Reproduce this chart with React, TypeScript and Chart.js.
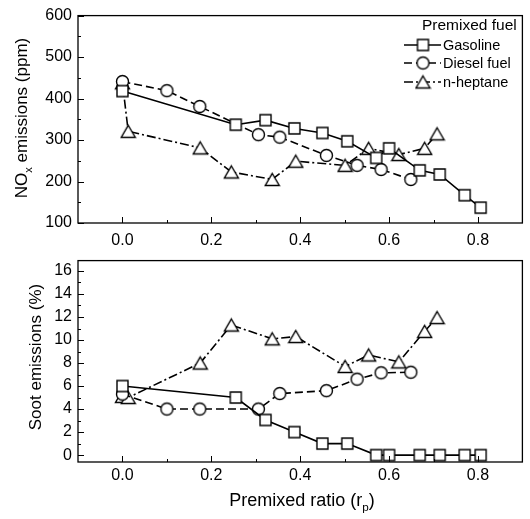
import React, { useEffect, useRef } from "react";
import { Chart, registerables } from "chart.js";

Chart.register(...registerables);

const FONT = "'Liberation Sans', Arial, Helvetica, sans-serif";

// ---- Data (premixed ratio r_p on x) ----
const seriesNames = ["Gasoline", "Diesel fuel", "n-heptane"];
const legendTitle = "Premixed fuel";

const gasolineRp = [0.0, 0.255, 0.322, 0.387, 0.45, 0.506, 0.571, 0.6, 0.669, 0.714, 0.77, 0.806];
const gasolineNOx = [418, 337, 348, 328, 317, 297, 257, 280, 227, 217, 167, 137];
const gasolineSoot = [6.0, 5.0, 3.05, 2.0, 1.0, 1.0, 0, 0, 0, 0, 0, 0];

const dieselRp = [0.0, 0.1, 0.174, 0.306, 0.354, 0.459, 0.528, 0.582, 0.649];
const dieselNOx = [441, 419, 381, 313, 307, 263, 239, 229, 205];
const dieselSoot = [5.3, 4.0, 4.0, 4.0, 5.35, 5.6, 6.6, 7.15, 7.2];

const heptaneRp = [0.0, 0.013, 0.175, 0.245, 0.337, 0.39, 0.501, 0.554, 0.622, 0.68, 0.708];
const heptaneNOx = [438, 321, 281, 223, 205, 249, 239, 280, 265, 280, 315];
const heptaneSoot = [5.1, 5.0, 8.0, 11.3, 10.1, 10.3, 7.7, 8.7, 8.1, 10.75, 11.95];

// ---- Axis ticks ----
const xTicks = [0, 0.2, 0.4, 0.6, 0.8];
const xMinorTicks = [0.1, 0.3, 0.5, 0.7];
const noxTicks = [100, 200, 300, 400, 500, 600];
const noxMinorTicks = [150, 250, 350, 450, 550];
const sootTicks = [0, 2, 4, 6, 8, 10, 12, 14, 16];
const sootMinorTicks = [1, 3, 5, 7, 9, 11, 13, 15];

const toPoints = (xs: number[], ys: number[]) => xs.map((x, i) => ({ x, y: ys[i] }));

function makeMarker(kind: string): HTMLCanvasElement {
  const c = document.createElement("canvas");
  c.width = 17;
  c.height = 17;
  const g = c.getContext("2d")!;
  g.fillStyle = "#fff";
  g.strokeStyle = "#000";
  g.lineWidth = 1.4;
  g.beginPath();
  if (kind === "square") g.rect(3, 3, 11, 11);
  else if (kind === "circle") g.arc(8.5, 8.5, 6, 0, Math.PI * 2);
  else {
    g.moveTo(8.5, 2.5);
    g.lineTo(15.5, 14.5);
    g.lineTo(1.5, 14.5);
    g.closePath();
  }
  g.fill();
  g.stroke();
  return c;
}

type Part = { t: string; sub?: boolean };

function drawRich(ctx: CanvasRenderingContext2D, parts: Part[], cx: number, cy: number, size: number, rotate: boolean) {
  ctx.save();
  ctx.translate(cx, cy);
  if (rotate) ctx.rotate(-Math.PI / 2);
  ctx.fillStyle = "#000";
  ctx.textBaseline = "middle";
  ctx.textAlign = "left";
  let total = 0;
  const widths = parts.map((p) => {
    ctx.font = `${p.sub ? size * 0.65 : size}px ${FONT}`;
    const w = ctx.measureText(p.t).width;
    total += w;
    return w;
  });
  let x = -total / 2;
  parts.forEach((p, i) => {
    ctx.font = `${p.sub ? size * 0.65 : size}px ${FONT}`;
    ctx.fillText(p.t, x, p.sub ? size * 0.38 : 0);
    x += widths[i];
  });
  ctx.restore();
}

function framePlugin(yMajor: number[], yMinor: number[]) {
  return {
    id: "frameTicks",
    afterDatasetsDraw(chart: any) {
      const { ctx, chartArea } = chart;
      const { left, right, top, bottom } = chartArea;
      const xs = chart.scales.x;
      const ys = chart.scales.y;
      ctx.save();
      ctx.strokeStyle = "#000";
      ctx.lineWidth = 1.3;
      ctx.setLineDash([]);
      ctx.strokeRect(left, top, right - left, bottom - top);
      ctx.lineWidth = 1;
      ctx.beginPath();
      xTicks.forEach((v) => {
        const p = Math.round(xs.getPixelForValue(v)) + 0.5;
        ctx.moveTo(p, bottom);
        ctx.lineTo(p, bottom - 6);
      });
      xMinorTicks.forEach((v) => {
        const p = Math.round(xs.getPixelForValue(v)) + 0.5;
        ctx.moveTo(p, bottom);
        ctx.lineTo(p, bottom - 3);
      });
      yMajor.forEach((v) => {
        const p = Math.round(ys.getPixelForValue(v)) + 0.5;
        ctx.moveTo(left, p);
        ctx.lineTo(left + 6, p);
      });
      yMinor.forEach((v) => {
        const p = Math.round(ys.getPixelForValue(v)) + 0.5;
        ctx.moveTo(left, p);
        ctx.lineTo(left + 3, p);
      });
      ctx.stroke();
      ctx.restore();
    },
  };
}

const markers = () => ({
  square: makeMarker("square"),
  circle: makeMarker("circle"),
  triangle: makeMarker("triangle"),
});

const dashes = [[], [8, 4], [9, 3, 2, 3]];

function makeDatasets(m: any, g: number[], d: number[], h: number[]) {
  const base = {
    borderColor: "#000",
    borderWidth: 1.6,
    pointRadius: 6,
    showLine: true,
    fill: false,
    tension: 0,
  };
  return [
    { ...base, label: seriesNames[0], data: toPoints(gasolineRp, g), pointStyle: m.square, borderDash: dashes[0] },
    { ...base, label: seriesNames[1], data: toPoints(dieselRp, d), pointStyle: m.circle, borderDash: dashes[1] },
    { ...base, label: seriesNames[2], data: toPoints(heptaneRp, h), pointStyle: m.triangle, borderDash: dashes[2] },
  ];
}

function xScale(padding: number, height: number) {
  return {
    type: "linear",
    min: -0.1,
    max: 0.9,
    grid: { display: false, drawTicks: false },
    border: { display: false },
    ticks: {
      color: "#000",
      font: { family: FONT, size: 16 },
      padding,
      maxRotation: 0,
      callback: (v: any) => Number(v).toFixed(1),
    },
    afterBuildTicks: (s: any) => {
      s.ticks = xTicks.map((v) => ({ value: v }));
    },
    afterFit: (s: any) => {
      s.height = height;
    },
  };
}

function yScale(min: number, max: number, ticks: number[]) {
  return {
    type: "linear",
    min,
    max,
    grid: { display: false, drawTicks: false },
    border: { display: false },
    ticks: {
      color: "#000",
      font: { family: FONT, size: 16 },
      padding: 6,
      callback: (v: any) => String(v),
    },
    afterBuildTicks: (s: any) => {
      s.ticks = ticks.map((v) => ({ value: v }));
    },
    afterFit: (s: any) => {
      s.width = 78;
    },
  };
}

export default function App() {
  const topRef = useRef<HTMLCanvasElement>(null);
  const botRef = useRef<HTMLCanvasElement>(null);

  useEffect(() => {
    const m = markers();

    const topTitle = {
      id: "topTitle",
      afterDraw(chart: any) {
        const ctx = chart.ctx;
        drawRich(ctx, [{ t: "NO" }, { t: "x", sub: true }, { t: " emissions (ppm)" }], 22, 118, 17, true);
        // legend
        ctx.save();
        ctx.fillStyle = "#000";
        ctx.textBaseline = "middle";
        ctx.textAlign = "left";
        ctx.font = `15.5px ${FONT}`;
        ctx.fillText(legendTitle, 422, 26);
        const rows = [45, 63, 82];
        const mk = [m.square, m.circle, m.triangle];
        rows.forEach((y, i) => {
          ctx.strokeStyle = "#000";
          ctx.lineWidth = 1.6;
          ctx.setLineDash(dashes[i]);
          ctx.beginPath();
          ctx.moveTo(404, y);
          ctx.lineTo(441, y);
          ctx.stroke();
          ctx.setLineDash([]);
          ctx.drawImage(mk[i], 423 - 8.5, y - 8.5);
          ctx.font = `14.5px ${FONT}`;
          ctx.fillText(seriesNames[i], 443, y + 1);
        });
        ctx.restore();
      },
    };

    const botTitle = {
      id: "botTitle",
      afterDraw(chart: any) {
        const ctx = chart.ctx;
        drawRich(ctx, [{ t: "Soot emissions (%)" }], 36, 112, 17, true);
        drawRich(ctx, [{ t: "Premixed ratio (r" }, { t: "p", sub: true }, { t: ")" }], 302, 256, 18, false);
      },
    };

    const top = new Chart(topRef.current!, {
      type: "line",
      data: { datasets: makeDatasets(m, gasolineNOx, dieselNOx, heptaneNOx) as any },
      options: {
        animation: false,
        responsive: false,
        devicePixelRatio: 1,
        layout: { padding: { left: 0, right: 3, top: 14, bottom: 0 } },
        plugins: { legend: { display: false }, tooltip: { enabled: false } },
        scales: {
          x: xScale(8, 22) as any,
          y: yScale(100, 600, noxTicks) as any,
        },
      },
      plugins: [framePlugin(noxTicks, noxMinorTicks), topTitle],
    });

    const bot = new Chart(botRef.current!, {
      type: "line",
      data: { datasets: makeDatasets(m, gasolineSoot, dieselSoot, heptaneSoot) as any },
      options: {
        animation: false,
        responsive: false,
        devicePixelRatio: 1,
        layout: { padding: { left: 0, right: 3, top: 7.5, bottom: 0 } },
        plugins: { legend: { display: false }, tooltip: { enabled: false } },
        scales: {
          x: xScale(4, 57) as any,
          y: yScale(-0.6, 16.9, sootTicks) as any,
        },
      },
      plugins: [framePlugin(sootTicks, sootMinorTicks), botTitle],
    });

    return () => {
      top.destroy();
      bot.destroy();
    };
  }, []);

  return (
    <div style={{ position: "absolute", left: 0, top: 0, width: 530, height: 519, background: "#fff" }}>
      <canvas ref={topRef} width={530} height={245} style={{ position: "absolute", left: 0, top: 0, width: 530, height: 245 }} />
      <canvas ref={botRef} width={530} height={274} style={{ position: "absolute", left: 0, top: 245, width: 530, height: 274 }} />
    </div>
  );
}
